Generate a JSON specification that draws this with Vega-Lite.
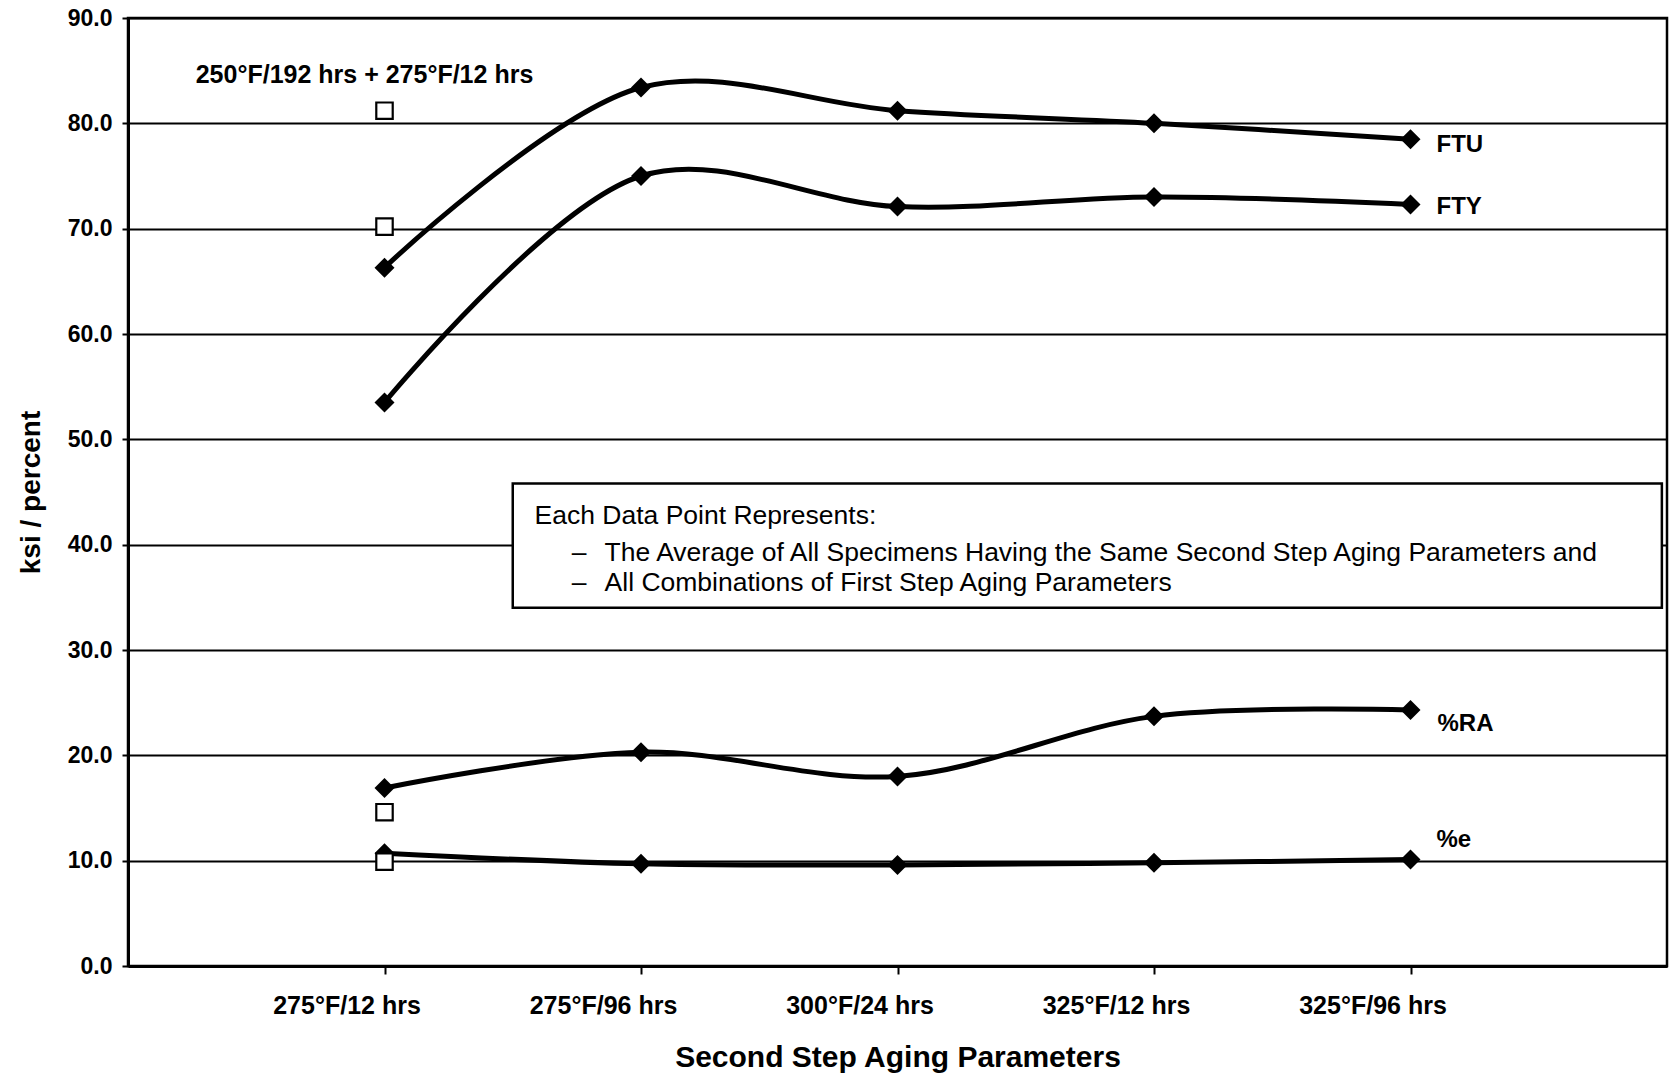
{
  "$schema": "https://vega.github.io/schema/vega-lite/v6.json",
  "width": 1539,
  "height": 948,
  "autosize": {"type": "none"},
  "padding": {"left": 128, "top": 18, "right": 3, "bottom": 110},
  "background": "white",
  "config": {
    "view": {"stroke": "black", "strokeWidth": 2.5},
    "font": "Liberation Sans",
    "axis": {
      "domainColor": "black", "domainWidth": 3, "tickColor": "black", "tickWidth": 2,
      "labelColor": "black", "titleColor": "black",
      "labelFont": "Liberation Sans", "titleFont": "Liberation Sans",
      "labelFontWeight": "bold", "titleFontWeight": "bold"
    }
  },
  "datasets": {
    "averages": [
      {"aging": "275°F/12 hrs", "property": "FTU", "value": 66.3},
      {"aging": "275°F/96 hrs", "property": "FTU", "value": 83.4},
      {"aging": "300°F/24 hrs", "property": "FTU", "value": 81.2},
      {"aging": "325°F/12 hrs", "property": "FTU", "value": 80.0},
      {"aging": "325°F/96 hrs", "property": "FTU", "value": 78.5},
      {"aging": "275°F/12 hrs", "property": "FTY", "value": 53.5},
      {"aging": "275°F/96 hrs", "property": "FTY", "value": 75.0},
      {"aging": "300°F/24 hrs", "property": "FTY", "value": 72.1},
      {"aging": "325°F/12 hrs", "property": "FTY", "value": 73.0},
      {"aging": "325°F/96 hrs", "property": "FTY", "value": 72.3},
      {"aging": "275°F/12 hrs", "property": "%RA", "value": 16.9},
      {"aging": "275°F/96 hrs", "property": "%RA", "value": 20.3},
      {"aging": "300°F/24 hrs", "property": "%RA", "value": 18.0},
      {"aging": "325°F/12 hrs", "property": "%RA", "value": 23.7},
      {"aging": "325°F/96 hrs", "property": "%RA", "value": 24.3},
      {"aging": "275°F/12 hrs", "property": "%e", "value": 10.7},
      {"aging": "275°F/96 hrs", "property": "%e", "value": 9.7},
      {"aging": "300°F/24 hrs", "property": "%e", "value": 9.6},
      {"aging": "325°F/12 hrs", "property": "%e", "value": 9.8},
      {"aging": "325°F/96 hrs", "property": "%e", "value": 10.1}
    ],
    "baseline": [
      {"aging": "275°F/12 hrs", "property": "FTU", "value": 81.2},
      {"aging": "275°F/12 hrs", "property": "FTY", "value": 70.2},
      {"aging": "275°F/12 hrs", "property": "%RA", "value": 14.6},
      {"aging": "275°F/12 hrs", "property": "%e", "value": 9.9}
    ]
  },
  "layer": [
    {
      "layer": [
        {
          "data": {"name": "averages"},
          "mark": {"type": "line", "interpolate": "catmull-rom", "color": "black", "strokeWidth": 5},
          "encoding": {
            "x": {
              "field": "aging", "type": "ordinal",
              "scale": {"type": "point", "padding": 1},
              "axis": {
                "title": "Second Step Aging Parameters", "labelAngle": 0, "labelFontSize": 25,
                "labelOffset": -38, "tickSize": 8, "labelPadding": 19, "titleFontSize": 30,
                "titlePadding": 24, "grid": false
              }
            },
            "y": {
              "field": "value", "type": "quantitative",
              "scale": {"domain": [0, 90], "nice": false, "zero": true},
              "axis": {
                "title": "ksi / percent", "values": [0, 10, 20, 30, 40, 50, 60, 70, 80, 90],
                "format": ".1f", "grid": true, "gridColor": "black", "gridWidth": 2, "gridOpacity": 1,
                "tickSize": 6, "labelPadding": 10, "labelFontSize": 23, "titleFontSize": 28, "titlePadding": 22
              }
            },
            "detail": {"field": "property"}
          }
        },
        {
          "data": {"name": "averages"},
          "mark": {"type": "point", "shape": "diamond", "filled": true, "color": "black", "size": 400, "opacity": 1},
          "encoding": {
            "x": {"field": "aging", "type": "ordinal"},
            "y": {"field": "value", "type": "quantitative"}
          }
        },
        {
          "data": {"name": "baseline"},
          "mark": {"type": "point", "shape": "square", "filled": true, "fill": "white", "stroke": "black", "strokeWidth": 2.2, "size": 270, "opacity": 1},
          "encoding": {
            "x": {"field": "aging", "type": "ordinal"},
            "y": {"field": "value", "type": "quantitative"}
          }
        },
        {
          "data": {"name": "averages"},
          "transform": [{"filter": "datum.aging == '325°F/96 hrs' && datum.property == 'FTU'"}],
          "mark": {"type": "text", "align": "left", "baseline": "middle", "dx": 26, "dy": 6, "fontSize": 24, "fontWeight": "bold", "color": "black"},
          "encoding": {
            "x": {"field": "aging", "type": "ordinal"},
            "y": {"field": "value", "type": "quantitative"},
            "text": {"field": "property"}
          }
        },
        {
          "data": {"name": "averages"},
          "transform": [{"filter": "datum.aging == '325°F/96 hrs' && datum.property == 'FTY'"}],
          "mark": {"type": "text", "align": "left", "baseline": "middle", "dx": 26, "dy": 3, "fontSize": 24, "fontWeight": "bold", "color": "black"},
          "encoding": {
            "x": {"field": "aging", "type": "ordinal"},
            "y": {"field": "value", "type": "quantitative"},
            "text": {"field": "property"}
          }
        },
        {
          "data": {"name": "averages"},
          "transform": [{"filter": "datum.aging == '325°F/96 hrs' && datum.property == '%RA'"}],
          "mark": {"type": "text", "align": "left", "baseline": "middle", "dx": 27, "dy": 14, "fontSize": 24, "fontWeight": "bold", "color": "black"},
          "encoding": {
            "x": {"field": "aging", "type": "ordinal"},
            "y": {"field": "value", "type": "quantitative"},
            "text": {"field": "property"}
          }
        },
        {
          "data": {"name": "averages"},
          "transform": [{"filter": "datum.aging == '325°F/96 hrs' && datum.property == '%e'"}],
          "mark": {"type": "text", "align": "left", "baseline": "middle", "dx": 26, "dy": -20, "fontSize": 24, "fontWeight": "bold", "color": "black"},
          "encoding": {
            "x": {"field": "aging", "type": "ordinal"},
            "y": {"field": "value", "type": "quantitative"},
            "text": {"field": "property"}
          }
        },
        {
          "data": {"values": [{}]},
          "mark": {"type": "text", "text": "250°F/192 hrs + 275°F/12 hrs", "align": "center", "baseline": "middle", "dx": -20, "fontSize": 25, "fontWeight": "bold", "color": "black"},
          "encoding": {
            "x": {"datum": "275°F/12 hrs", "type": "ordinal"},
            "y": {"datum": 84.6, "type": "quantitative"}
          }
        }
      ]
    },
    {
      "layer": [
        {
          "data": {"values": [{}]},
          "mark": {"type": "rect", "fill": "white", "stroke": "black", "strokeWidth": 2.5},
          "encoding": {
            "x": {"datum": 1.5, "type": "quantitative", "scale": {"domain": [0, 6], "nice": false, "zero": false}, "axis": null},
            "x2": {"datum": 5.98},
            "y": {"datum": 34.0, "type": "quantitative"},
            "y2": {"datum": 45.8}
          }
        },
        {
          "data": {"values": [{}]},
          "mark": {"type": "text", "text": "Each Data Point Represents:", "align": "left", "baseline": "middle", "fontSize": 26.5, "color": "black"},
          "encoding": {
            "x": {"datum": 1.585, "type": "quantitative", "axis": null},
            "y": {"datum": 42.7, "type": "quantitative"}
          }
        },
        {
          "data": {"values": [{}]},
          "mark": {"type": "text", "text": "–", "align": "left", "baseline": "middle", "fontSize": 26.5, "color": "black"},
          "encoding": {
            "x": {"datum": 1.73, "type": "quantitative", "axis": null},
            "y": {"datum": 39.2, "type": "quantitative"}
          }
        },
        {
          "data": {"values": [{}]},
          "mark": {"type": "text", "text": "The Average of All Specimens Having the Same Second Step Aging Parameters and", "align": "left", "baseline": "middle", "fontSize": 26.5, "color": "black"},
          "encoding": {
            "x": {"datum": 1.858, "type": "quantitative", "axis": null},
            "y": {"datum": 39.2, "type": "quantitative"}
          }
        },
        {
          "data": {"values": [{}]},
          "mark": {"type": "text", "text": "–", "align": "left", "baseline": "middle", "fontSize": 26.5, "color": "black"},
          "encoding": {
            "x": {"datum": 1.73, "type": "quantitative", "axis": null},
            "y": {"datum": 36.4, "type": "quantitative"}
          }
        },
        {
          "data": {"values": [{}]},
          "mark": {"type": "text", "text": "All Combinations of First Step Aging Parameters", "align": "left", "baseline": "middle", "fontSize": 26.5, "color": "black"},
          "encoding": {
            "x": {"datum": 1.858, "type": "quantitative", "axis": null},
            "y": {"datum": 36.4, "type": "quantitative"}
          }
        }
      ]
    }
  ],
  "resolve": {"scale": {"x": "independent"}}
}
